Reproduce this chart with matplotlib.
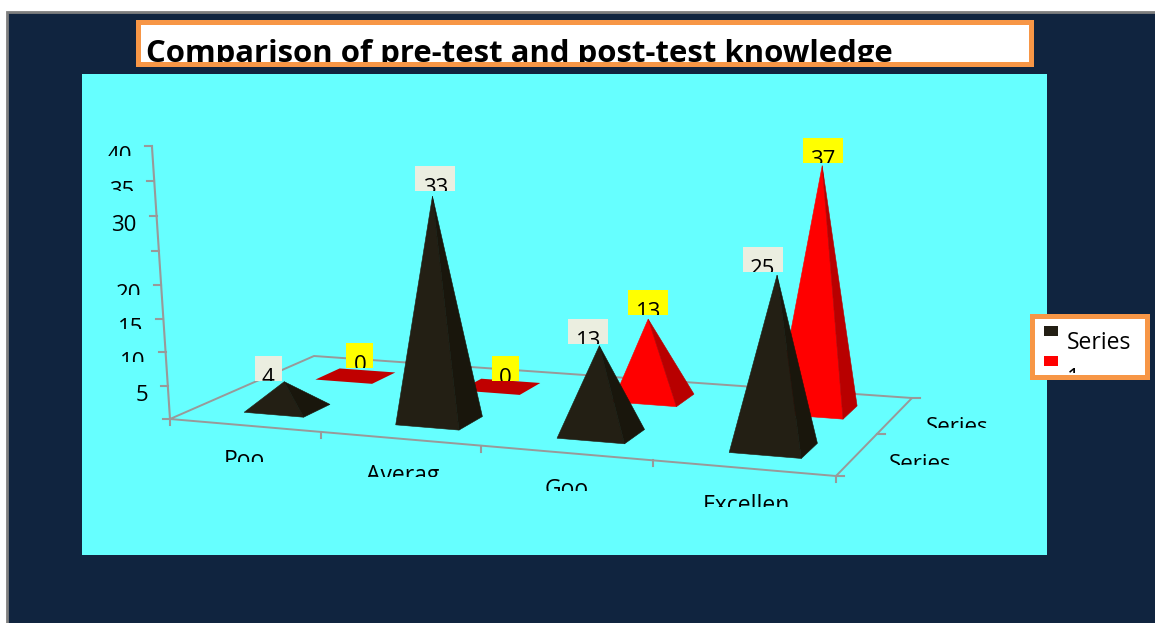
import matplotlib
matplotlib.use("Agg")
import matplotlib.pyplot as plt
import numpy as np
from matplotlib.patches import Polygon, Rectangle

categories = ["Poo", "Averag", "Goo", "Excellen"]
series_labels = ["Series", "Series"]
series_0 = [4, 33, 13, 25]
series_1 = [0, 0, 13, 37]
y_ticks = [5, 10, 15, 20, 25, 30, 35, 40]
y_tick_labels = ["5", "10", "15", "20", "", "30", "35", "40"]
title = "Comparison of pre-test and post-test knowledge"

NAVY = "#10243F"
CYAN = "#66FFFF"
ORANGE = "#F79646"
GREY = "#999999"
LABEL_FONT = "Open Sans"

# floor corners in pixels: front left, front right, back right, back left
floor_px = [(170, 419), (836, 476), (912, 398), (314, 356)]
floor_uv = [(0, 0), (4, 0), (4, 2), (0, 2)]

rows, rhs = [], []
for (u, v), (x, y) in zip(floor_uv, floor_px):
    rows.append([u, v, 1, 0, 0, 0, -u * x, -v * x])
    rows.append([0, 0, 0, u, v, 1, -u * y, -v * y])
    rhs += [x, y]
homography = np.append(np.linalg.solve(np.array(rows, float), np.array(rhs, float)), 1).reshape(3, 3)


def project(u, v, h=0.0):
    x, y, w = homography @ np.array([u, v, 1.0])
    x, y = x / w, y / w
    # higher values and nearer floor points come out slightly larger
    lift = (6.6 * h + 0.0056 * h**2) * (1 + (y - 419) * 0.0008)
    # verticals lean away from a vanishing point far below the chart
    return x + lift * (x - 566) / (6400 - y), y - lift


def clipped_text(x, baseline, text, clip_bottom=None, **kwargs):
    kwargs.setdefault("fontsize", 16)
    kwargs.setdefault("family", LABEL_FONT)
    kwargs.setdefault("color", "black")
    artist = ax.text(x, baseline, text, va="baseline", zorder=12, **kwargs)
    if clip_bottom is not None:
        artist.set_clip_on(True)
        artist.set_clip_path(Rectangle((0, clip_bottom), 1155, -clip_bottom, transform=ax.transData))
    return artist


def draw_pyramid(cat, depth, value, front, side, flat, apex_du, apex_dv):
    centre_u = cat + 0.54
    u0, u1 = centre_u - half_u, centre_u + half_u
    v0, v1 = depth + 0.5 - front_v, depth + 0.5 + back_v
    fl, fr = project(u0, v0), project(u1, v0)
    br, bl = project(u1, v1), project(u0, v1)
    if value == 0:
        ax.add_patch(Polygon([fl, fr, br, bl], fc=flat, ec="none", zorder=5))
        return project(centre_u, depth + 0.5)
    apex = project(cat + 0.5 + apex_du, depth + 0.5 + apex_dv, value)
    order = 5 + 2 * (1 - depth)
    ax.add_patch(Polygon([fl, fr, apex], fc=front, ec=front, lw=0.4, zorder=order))
    ax.add_patch(Polygon([fr, br, apex], fc=side, ec=side, lw=0.4, zorder=order))
    return apex


half_u, front_v, back_v = 0.20, 0.19, 0.18

fig = plt.figure(figsize=(11.55, 6.23), dpi=100, facecolor="white")
ax = fig.add_axes([0, 0, 1, 1])
ax.set_xlim(0, 1155)
ax.set_ylim(623, 0)
ax.axis("off")

# slide and plot backgrounds
ax.add_patch(Rectangle((7, 12), 1160, 620, fc=NAVY, ec="#7F7F7F", lw=2, zorder=1))
ax.add_patch(Rectangle((82, 74), 965, 481, fc=CYAN, ec="none", zorder=2))

# title box
ax.add_patch(Rectangle((137.5, 22), 893, 42, fc="white", ec=ORANGE, lw=3.6, zorder=3))
clipped_text(146, 62, title, clip_bottom=62, fontsize=22.4, fontweight="bold")

# value axis
origin = project(0, 0)
top = project(0, 0, 40)
ax.plot([origin[0], top[0]], [origin[1], top[1]], color=GREY, lw=1.5, zorder=4)
ax.plot([origin[0] - 7, origin[0]], [origin[1], origin[1]], color=GREY, lw=1.5, zorder=4)
clipped_ticks = {10, 15, 20, 35, 40}
for tick, label in zip(y_ticks, y_tick_labels):
    x, y = project(0, 0, tick)
    ax.plot([x - 7, x], [y, y], color=GREY, lw=1.5, zorder=4)
    clip = y + 10 if tick in clipped_ticks else None
    clipped_text(x - 20, y + 15.5, label, clip_bottom=clip, ha="right")

# floor outline and its ticks
n_cats, n_series = len(categories), len(series_labels)
corners = [project(0, 0), project(n_cats, 0), project(n_cats, n_series), project(0, n_series)]
xs, ys = zip(*(corners + corners[:1]))
ax.plot(xs, ys, color=GREY, lw=1.4, zorder=4)
for i in range(n_cats + 1):
    x, y = project(i, 0)
    ax.plot([x, x], [y, y + 6], color=GREY, lw=1.5, zorder=4)
for i in range(0, n_series + 1):
    x, y = project(n_cats, i)
    ax.plot([x, x + 8], [y, y], color=GREY, lw=1.5, zorder=4)

# pyramids, back series first
label_dx_0 = [-16, 3, -11, -14]
label_dx_1 = [4, 5, 0, 1]
label_gap_0 = [1, 5, 2, 3]
label_gap_1 = [8, 6, 4, 3]
for depth, values, front, side, box, label_dx, label_gap, apex_du, apex_dv in [
    (1, series_1, "#FF0000", "#B80000", "#FFFF00", label_dx_1, label_gap_1, 0.06, -0.2),
    (0, series_0, "#231F14", "#19160C", "#EBEEE0", label_dx_0, label_gap_0, 0.025, 0.0),
]:
    for cat, value in enumerate(values):
        apex = draw_pyramid(cat, depth, value, front, side, "#C00000", apex_du, apex_dv)
        text = str(value)
        width = 27 if len(text) == 1 else 40
        cx = apex[0] + label_dx[cat]
        bottom = apex[1] - label_gap[cat]
        ax.add_patch(Rectangle((cx - width / 2, bottom - 25), width, 25, fc=box, ec="none", zorder=11))
        clipped_text(cx, bottom + 3, text, clip_bottom=bottom, ha="center")

# category and series names, cut off like the source
category_x = [244, 403, 567, 746]
category_base = [467, 482, 496, 512]
for name, x, base in zip(categories, category_x, category_base):
    clipped_text(x, base, name, clip_bottom=base - 5, ha="center", fontsize=16.5)
clipped_text(957, 433, series_labels[1], clip_bottom=428, ha="center")
clipped_text(920, 470, series_labels[0], clip_bottom=465, ha="center")

# legend box
ax.add_patch(Rectangle((1031.5, 315.5), 115, 61, fc="white", ec=ORANGE, lw=3.6, zorder=10))
ax.add_patch(Rectangle((1044, 326), 14, 10, fc="#231F14", ec="none", zorder=11))
ax.add_patch(Rectangle((1044, 356), 14, 10, fc="#FF0000", ec="none", zorder=11))
clipped_text(1067, 349, "Series", fontsize=16.5)
clipped_text(1067, 385, "1", clip_bottom=373, fontsize=16.5)

fig.savefig("out.png", dpi=100, facecolor="white")
